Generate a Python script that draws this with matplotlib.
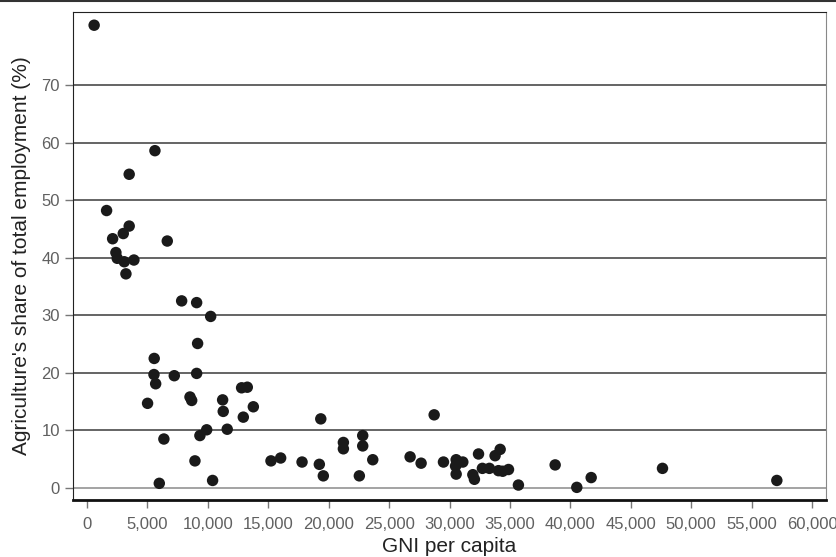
import matplotlib
matplotlib.use("Agg")
import matplotlib.pyplot as plt
from matplotlib.lines import Line2D
from matplotlib.ticker import FuncFormatter

plt.rcParams["font.family"] = ["Liberation Sans", "DejaVu Sans"]

# GNI per capita (x) and agriculture's share of employment in % (y)
gni = [600, 5630, 3500, 1630, 3500, 3010, 2130, 6650, 2400, 2510, 3090, 3890, 3230,
       7840, 9080, 10240, 9160, 5570, 5550, 5690, 7230, 9080, 12800, 13270,
       5020, 8530, 8670, 11230, 13770, 11280, 12940, 9910, 11610, 9350, 6370,
       8940, 5990, 10400, 15230, 16030, 19350, 17800, 19230, 19560, 21220, 21220,
       22820, 22820, 22540, 23650, 26740, 27650, 28730, 29500, 30550, 30600,
       30500, 30550, 31100, 31930, 32060, 32400, 32720, 33300, 33770, 34190,
       34050, 34400, 34880, 35700, 38740, 40530, 41720, 47620, 57080]
agri = [80.4, 58.6, 54.5, 48.2, 45.5, 44.2, 43.3, 42.9, 40.9, 39.9, 39.3, 39.6, 37.2,
        32.5, 32.2, 29.8, 25.1, 22.5, 19.7, 18.1, 19.5, 19.9, 17.4, 17.5,
        14.7, 15.8, 15.2, 15.3, 14.1, 13.3, 12.3, 10.1, 10.2, 9.1, 8.5,
        4.7, 0.8, 1.3, 4.7, 5.2, 12.0, 4.5, 4.1, 2.1, 7.9, 6.8,
        9.1, 7.3, 2.1, 4.9, 5.4, 4.3, 12.7, 4.5, 4.9, 4.2,
        3.8, 2.4, 4.5, 2.3, 1.5, 5.9, 3.4, 3.4, 5.6, 6.7,
        3.0, 2.9, 3.2, 0.5, 4.0, 0.1, 1.8, 3.4, 1.3]

x_ticks = list(range(0, 60001, 5000))
y_ticks = list(range(0, 71, 10))

fig = plt.figure(figsize=(8.37, 5.57), dpi=100)
ax = fig.add_axes([0.0872, 0.1023, 0.8997, 0.8762])

for yv in y_ticks:
    ax.axhline(yv, color="#3a3a3a" if yv else "#8a8a8a", lw=1.1, zorder=1)

ax.scatter(gni, agri, s=68, color="#1a1a1a", edgecolors="none", zorder=3)

ax.set_xlim(-1150, 61150)
ax.set_ylim(-2.1, 82.7)
ax.set_xticks(x_ticks)
ax.set_yticks(y_ticks)
ax.xaxis.set_major_formatter(FuncFormatter(lambda v, p: f"{int(v):,}"))
ax.tick_params(axis="both", colors="#777777", labelcolor="#606060", labelsize=12,
               length=6, width=1)
ax.tick_params(axis="x", pad=6)

for side in ["top", "left"]:
    ax.spines[side].set_color("#222222")
ax.spines["bottom"].set_color("#111111")
ax.spines["bottom"].set_linewidth(2)
ax.spines["right"].set_color("#888888")

ax.set_xlabel("GNI per capita", fontsize=15, color="#222222", labelpad=4)
ax.set_ylabel("Agriculture's share of total employment (%)", fontsize=15,
              color="#222222", labelpad=7)

fig.add_artist(Line2D([0, 1], [0.998, 0.998], transform=fig.transFigure,
                      color="#333333", lw=1.5))

fig.savefig("out.png", dpi=100)
